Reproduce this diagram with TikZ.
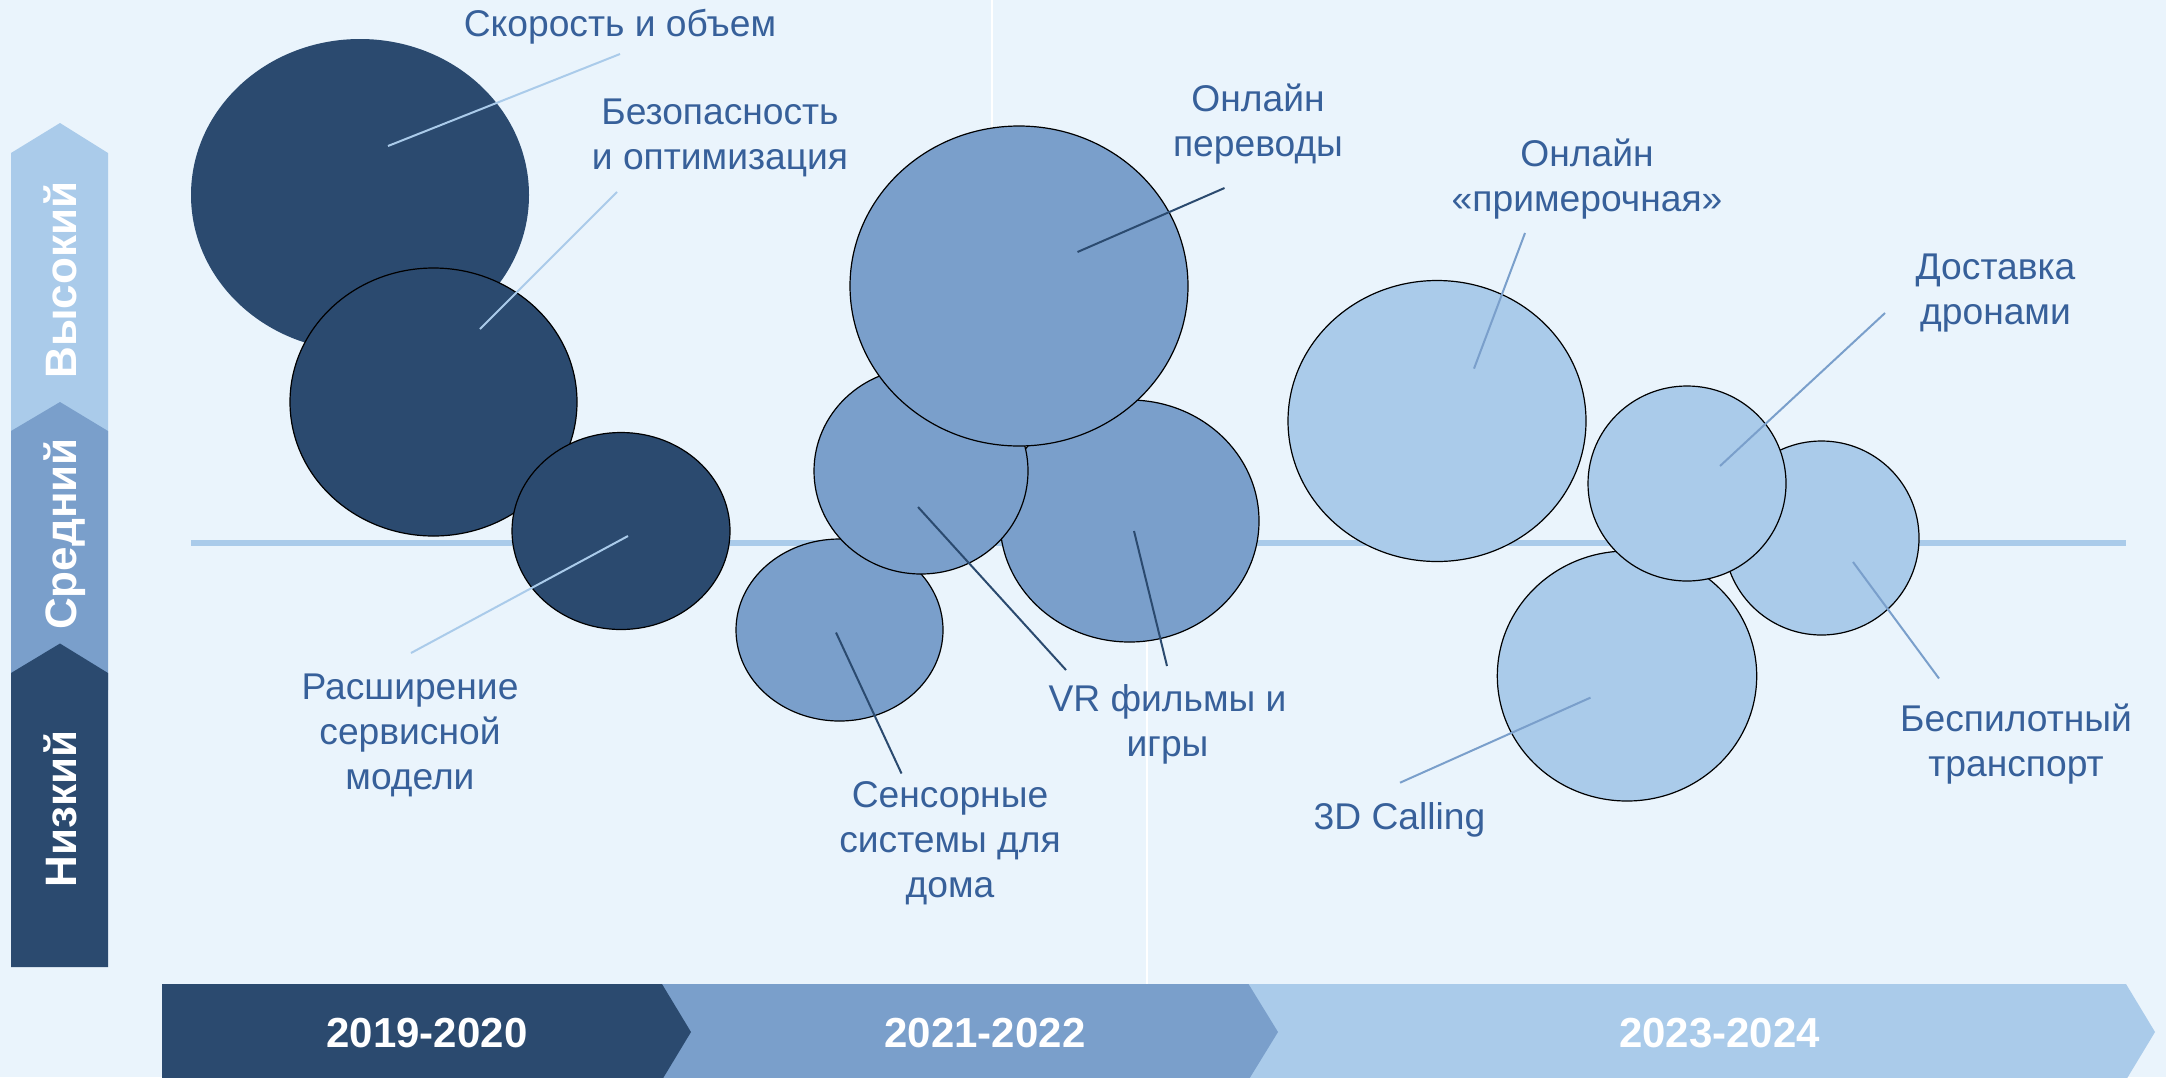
\documentclass[tikz,border=0pt]{standalone}
\usepackage{fontspec}
\setmainfont{Liberation Sans}
\usetikzlibrary{shapes.geometric}
\definecolor{bgcol}{HTML}{EAF4FC}
\definecolor{darkcol}{HTML}{2B4A6F}
\definecolor{midcol}{HTML}{7A9FCB}
\definecolor{lightcol}{HTML}{AACBEA}
\definecolor{txtcol}{HTML}{37609A}
\begin{document}
\begin{tikzpicture}[x=0.5pt, y=-0.5pt,
        bubble/.style={ellipse, inner sep=0pt, draw=black, line width=0.6pt},
        darkbubble/.style={bubble, fill=darkcol},
        midbubble/.style={bubble, fill=midcol},
        lightbubble/.style={bubble, fill=lightcol},
        bubbletext/.style={align=center, text=txtcol, font=\fontsize{18.6}{22.5}\selectfont},
        leader/.style={line width=1pt},
        yeartext/.style={text=white, font=\bfseries\fontsize{21}{25}\selectfont},
        leveltext/.style={rotate=90, anchor=base, text=white, font=\bfseries\fontsize{22}{26}\selectfont}
    ]
    \useasboundingbox (0,0) rectangle (2166,1077);
    \fill[bgcol] (0,0) rectangle (2166,1077);
    % Grid
    \draw[white, line width=0.6pt] (992,0) -- (992,543);
    \draw[white, line width=0.6pt] (1147,543) -- (1147,984);
    \draw[lightcol, line width=3pt] (191,543) -- (2126,543);
    % Level scale
    \fill[lightcol] (11,153) -- (60,123) -- (108,153) -- (108,450) -- (11,450) -- cycle;
    \fill[midcol] (11,431) -- (60,402) -- (108,431) -- (108,690) -- (11,690) -- cycle;
    \fill[darkcol] (11,673) -- (60,643.5) -- (108,673) -- (108,967) -- (11,967) -- cycle;
    \node[leveltext] (high) at (76,280) {Высокий};
    \node[leveltext] (medium) at (76,534) {Средний};
    \node[leveltext] (low) at (76,809) {Низкий};
    % Time scale
    \fill[lightcol] (1248,984) -- (2126,984) -- (2155,1032) -- (2126,1080) -- (1248,1080) -- cycle;
    \fill[midcol] (662,984) -- (1248.5,984) -- (1278,1032) -- (1248.5,1080) -- (662,1080) -- cycle;
    \fill[darkcol] (162,984) -- (662,984) -- (691,1032) -- (662,1080) -- (162,1080) -- cycle;
    \node[yeartext] (years1) at (427,1033) {2019-2020};
    \node[yeartext] (years2) at (985,1033) {2021-2022};
    \node[yeartext] (years3) at (1719.5,1033) {2023-2024};
    % Bubbles 2019-2020
    \node[darkbubble, draw=none, minimum width=169pt, minimum height=156pt] (speed) at (360,195) {};
    \node[darkbubble, minimum width=143.5pt, minimum height=134pt] (security) at (433.5,402) {};
    \node[darkbubble, minimum width=109pt, minimum height=98.5pt] (service) at (621,531) {};
    % Bubbles 2021-2022
    \node[midbubble, minimum width=103.5pt, minimum height=91pt] (sensor) at (839.5,630) {};
    \node[midbubble, minimum width=129.5pt, minimum height=121pt] (vrright) at (1129.5,521) {};
    \node[midbubble, minimum width=107pt, minimum height=103pt] (vrleft) at (921,471) {};
    \node[midbubble, minimum width=169pt, minimum height=160pt] (transfer) at (1019,286) {};
    % Bubbles 2023-2024
    \node[lightbubble, minimum width=149pt, minimum height=140.5pt] (fitting) at (1437,421) {};
    \node[lightbubble, minimum width=97.5pt, minimum height=97pt] (autonomous) at (1821.5,538) {};
    \node[lightbubble, minimum width=129.7pt, minimum height=125pt] (calling) at (1627,676) {};
    \node[lightbubble, minimum width=99pt, minimum height=97.5pt] (drones) at (1687,483.5) {};
    % Labels
    \node[bubbletext] (speedtext) at (620,27) {Скорость и объем};
    \node[bubbletext] (securitytext) at (720,138) {Безопасность\\и оптимизация};
    \node[bubbletext] (servicetext) at (410,735) {Расширение\\сервисной\\модели};
    \node[bubbletext] (transfertext) at (1258,124) {Онлайн\\переводы};
    \node[bubbletext] (vrtext) at (1167.5,724) {VR фильмы и\\игры};
    \node[bubbletext] (sensortext) at (950,843) {Сенсорные\\системы для\\дома};
    \node[bubbletext] (fittingtext) at (1587,179) {Онлайн\\«примерочная»};
    \node[bubbletext] (dronestext) at (1995.5,293) {Доставка\\дронами};
    \node[bubbletext] (autotext) at (2016,744.5) {Беспилотный\\транспорт};
    \node[bubbletext] (callingtext) at (1399.5,820) {3D Calling};
    % Leader ends
    \coordinate (speed-in) at (388,146);     \coordinate (speed-out) at (620,54);
    \coordinate (security-in) at (480,329);  \coordinate (security-out) at (617,192);
    \coordinate (service-in) at (628,536);   \coordinate (service-out) at (411,653);
    \coordinate (transfer-in) at (1077.5,252); \coordinate (transfer-out) at (1224.5,188);
    \coordinate (vrleft-in) at (918,507);    \coordinate (vrleft-out) at (1066,670);
    \coordinate (vrright-in) at (1134,531);  \coordinate (vrright-out) at (1167,666);
    \coordinate (sensor-in) at (836,632.5);  \coordinate (sensor-out) at (901.5,773.5);
    \coordinate (fitting-in) at (1474,368.6); \coordinate (fitting-out) at (1525,233);
    \coordinate (drones-in) at (1720,466);   \coordinate (drones-out) at (1885,313);
    \coordinate (auto-in) at (1853,562);     \coordinate (auto-out) at (1939,678.5);
    \coordinate (calling-in) at (1590.5,697.6); \coordinate (calling-out) at (1400,782.7);
    % Leaders
    \draw[leader, lightcol] (speed-in) -- (speed-out);
    \draw[leader, lightcol] (security-in) -- (security-out);
    \draw[leader, lightcol] (service-in) -- (service-out);
    \draw[leader, darkcol] (transfer-in) -- (transfer-out);
    \draw[leader, darkcol] (vrleft-in) -- (vrleft-out);
    \draw[leader, darkcol] (vrright-in) -- (vrright-out);
    \draw[leader, darkcol] (sensor-in) -- (sensor-out);
    \draw[leader, midcol] (fitting-in) -- (fitting-out);
    \draw[leader, midcol] (drones-in) -- (drones-out);
    \draw[leader, midcol] (auto-in) -- (auto-out);
    \draw[leader, midcol] (calling-in) -- (calling-out);
\end{tikzpicture}
\end{document}
